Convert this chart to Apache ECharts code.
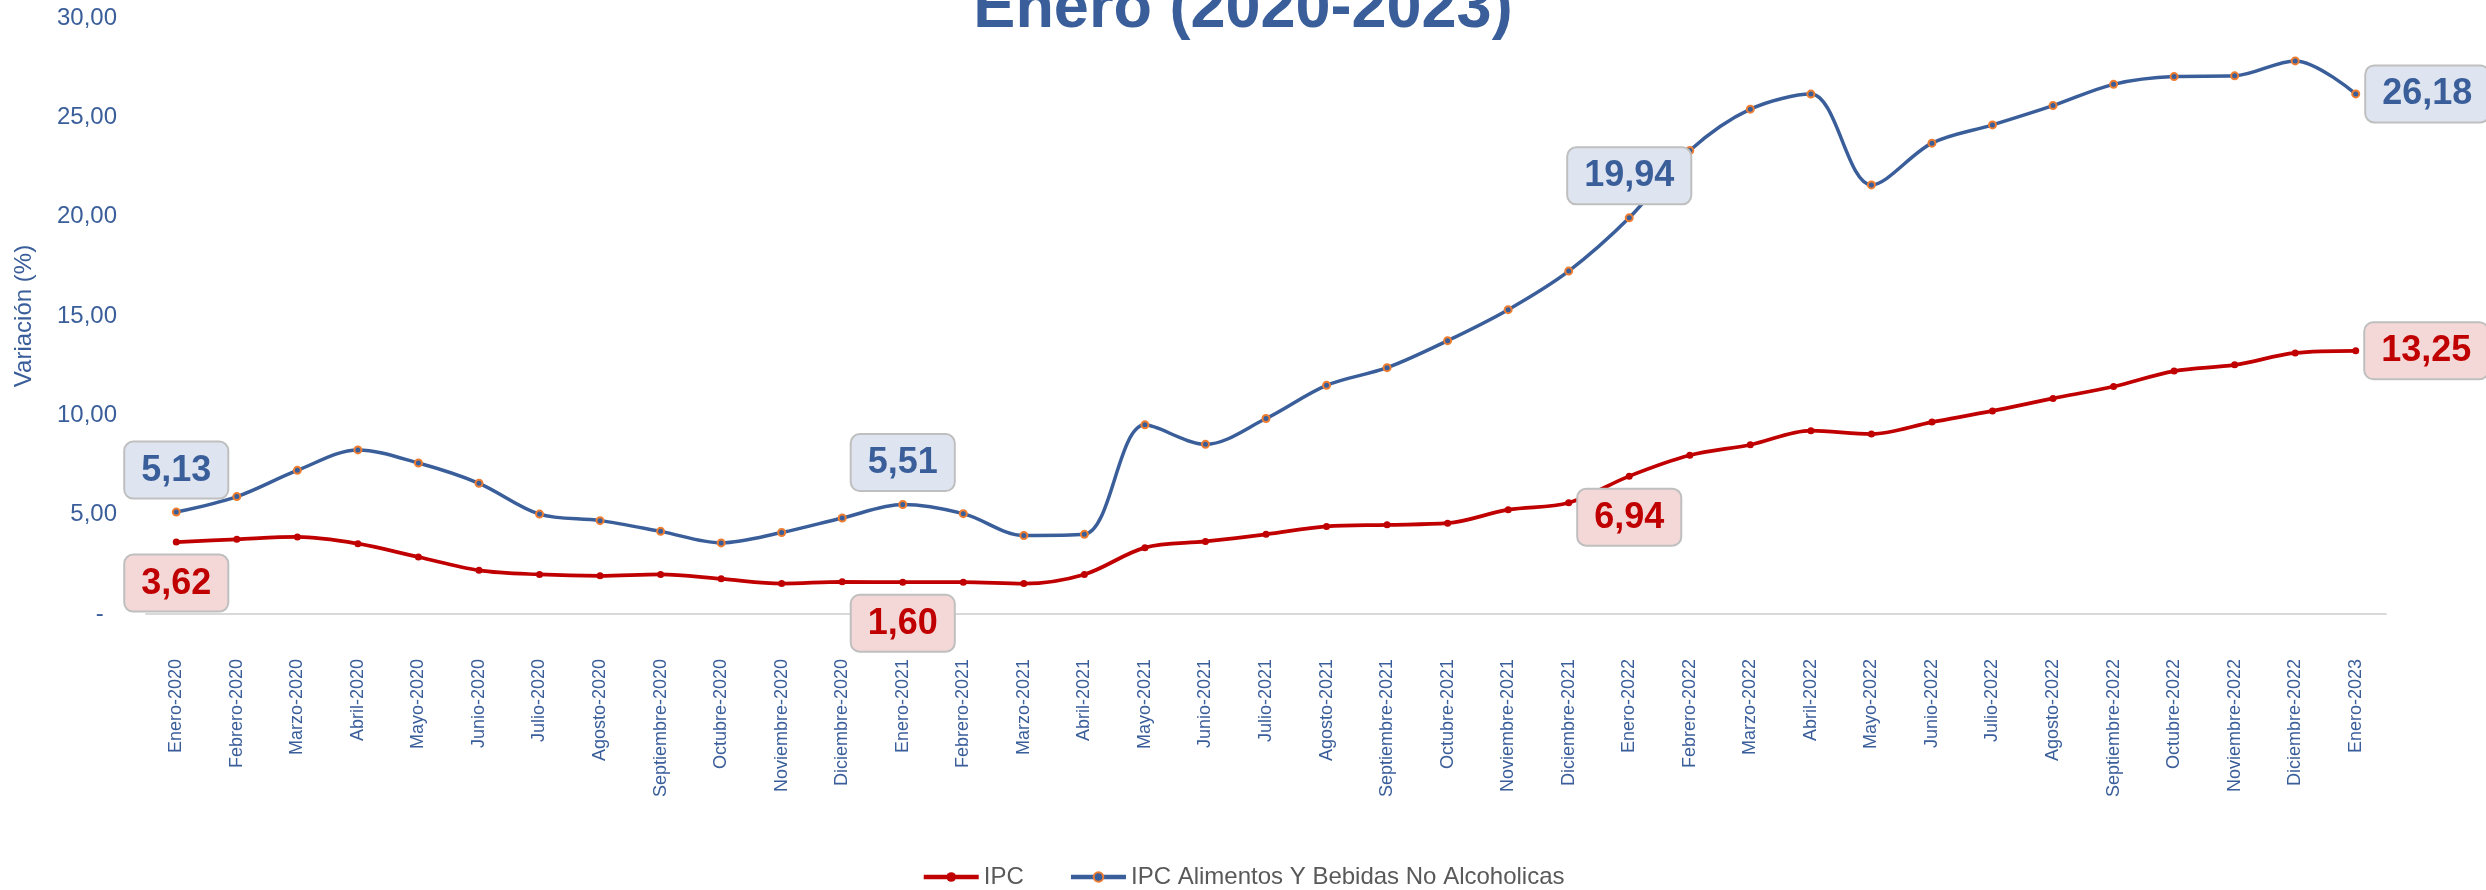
<!DOCTYPE html>
<html>
<head>
<meta charset="utf-8">
<title>IPC Enero (2020-2023)</title>
<script src="https://cdn.jsdelivr.net/npm/echarts@6/dist/echarts.min.js"></script>
<style>
  html, body { margin: 0; padding: 0; background: #fff; }
  #chart { width: 2486px; height: 890px; }
</style>
</head>
<body>
<div id="chart"></div>
<script>
const months = [
  'Enero-2020', 'Febrero-2020', 'Marzo-2020', 'Abril-2020', 'Mayo-2020', 'Junio-2020',
  'Julio-2020', 'Agosto-2020', 'Septiembre-2020', 'Octubre-2020', 'Noviembre-2020', 'Diciembre-2020',
  'Enero-2021', 'Febrero-2021', 'Marzo-2021', 'Abril-2021', 'Mayo-2021', 'Junio-2021',
  'Julio-2021', 'Agosto-2021', 'Septiembre-2021', 'Octubre-2021', 'Noviembre-2021', 'Diciembre-2021',
  'Enero-2022', 'Febrero-2022', 'Marzo-2022', 'Abril-2022', 'Mayo-2022', 'Junio-2022',
  'Julio-2022', 'Agosto-2022', 'Septiembre-2022', 'Octubre-2022', 'Noviembre-2022', 'Diciembre-2022',
  'Enero-2023'
];
const ipc = [
  3.62, 3.76, 3.88, 3.54, 2.87, 2.20, 1.99, 1.92, 1.99, 1.77, 1.53, 1.62,
  1.60, 1.60, 1.53, 1.99, 3.34, 3.65, 4.01, 4.41, 4.49, 4.57, 5.25, 5.60,
  6.94, 7.99, 8.52, 9.23, 9.06, 9.66, 10.22, 10.85, 11.45, 12.23, 12.54, 13.14,
  13.25
];
const alimentos = [
  5.13, 5.91, 7.23, 8.26, 7.60, 6.58, 5.03, 4.70, 4.16, 3.58, 4.10, 4.83,
  5.51, 5.05, 3.95, 4.01, 9.52, 8.54, 9.84, 11.51, 12.40, 13.76, 15.32, 17.26,
  19.94, 23.33, 25.41, 26.17, 21.60, 23.70, 24.62, 25.59, 26.66, 27.05, 27.09, 27.84,
  26.18
];
// months that carry a value box, and where the box sits for each series
const labelIdx = [0, 12, 24, 36];
const ipcLabelPos = ['bottom', 'bottom', 'bottom', 'right'];
const alimLabelPos = ['top', 'top', 'top', 'right'];

const BLUE = '#3A5E9A';
const RED = '#C00000';
const FONT = '"Liberation Sans", Arial, sans-serif';

function fmt(v) {
  return v.toFixed(2).replace('.', ',');
}

function withLabels(values, positions, textColor, bgColor) {
  return values.map(function (v, i) {
    const k = labelIdx.indexOf(i);
    if (k < 0) return v;
    return {
      value: v,
      label: {
        show: true,
        position: positions[k],
        distance: positions[k] === 'right' ? 6 : 10,
        formatter: function (p) { return fmt(p.value); },
        color: textColor,
        fontFamily: FONT,
        fontWeight: 'bold',
        fontSize: 36,
        lineHeight: 36,
        backgroundColor: bgColor,
        borderColor: '#BFBFBF',
        borderWidth: 2,
        borderRadius: 8,
        padding: [10, 16, 9, 16]
      }
    };
  });
}

const chart = echarts.init(document.getElementById('chart'));
chart.setOption({
  backgroundColor: '#fff',
  animation: false,
  title: {
    text: 'Enero (2020-2023)',
    left: 'center',
    top: -27,
    textStyle: { color: BLUE, fontFamily: FONT, fontWeight: 'bold', fontSize: 63 }
  },
  legend: {
    top: 860,
    left: 'center',
    itemWidth: 55,
    itemHeight: 12,
    itemGap: 45,
    lineStyle: { width: 4.5 },
    textStyle: { color: '#595959', fontFamily: FONT, fontSize: 24 },
    data: ['IPC', 'IPC Alimentos Y Bebidas No Alcoholicas']
  },
  grid: { left: 146, right: 100, top: 18, bottom: 276, outerBoundsMode: 'none' },
  xAxis: {
    type: 'category',
    data: months,
    boundaryGap: true,
    axisLine: { lineStyle: { color: '#D9D9D9', width: 2 } },
    axisTick: { show: false },
    axisLabel: {
      rotate: 90,
      margin: 45,
      interval: 0,
      color: BLUE,
      fontFamily: FONT,
      fontSize: 18
    }
  },
  yAxis: {
    type: 'value',
    min: 0,
    max: 30,
    interval: 5,
    name: 'Variación (%)',
    nameLocation: 'middle',
    nameGap: 110,
    nameTextStyle: { color: BLUE, fontFamily: FONT, fontSize: 24 },
    axisLine: { show: false },
    axisTick: { show: false },
    splitLine: { show: false },
    axisLabel: {
      margin: 29,
      color: BLUE,
      fontFamily: FONT,
      fontSize: 24,
      formatter: function (v) { return v === 0 ? '-  ' : fmt(v); }
    }
  },
  series: [
    {
      name: 'IPC',
      type: 'line',
      smooth: 0.33,
      symbol: 'circle',
      symbolSize: 7,
      lineStyle: { color: RED, width: 3.75 },
      itemStyle: { color: RED },
      data: withLabels(ipc, ipcLabelPos, RED, '#F4D8D8')
    },
    {
      name: 'IPC Alimentos Y Bebidas No Alcoholicas',
      type: 'line',
      smooth: 0.33,
      symbol: 'circle',
      symbolSize: 7,
      lineStyle: { color: BLUE, width: 3.5 },
      itemStyle: { color: BLUE, borderColor: '#ED7D31', borderWidth: 2 },
      data: withLabels(alimentos, alimLabelPos, BLUE, '#DFE5F0')
    }
  ]
});
window.onresize = function () {
  chart.resize();
};
</script>
</body>
</html>
